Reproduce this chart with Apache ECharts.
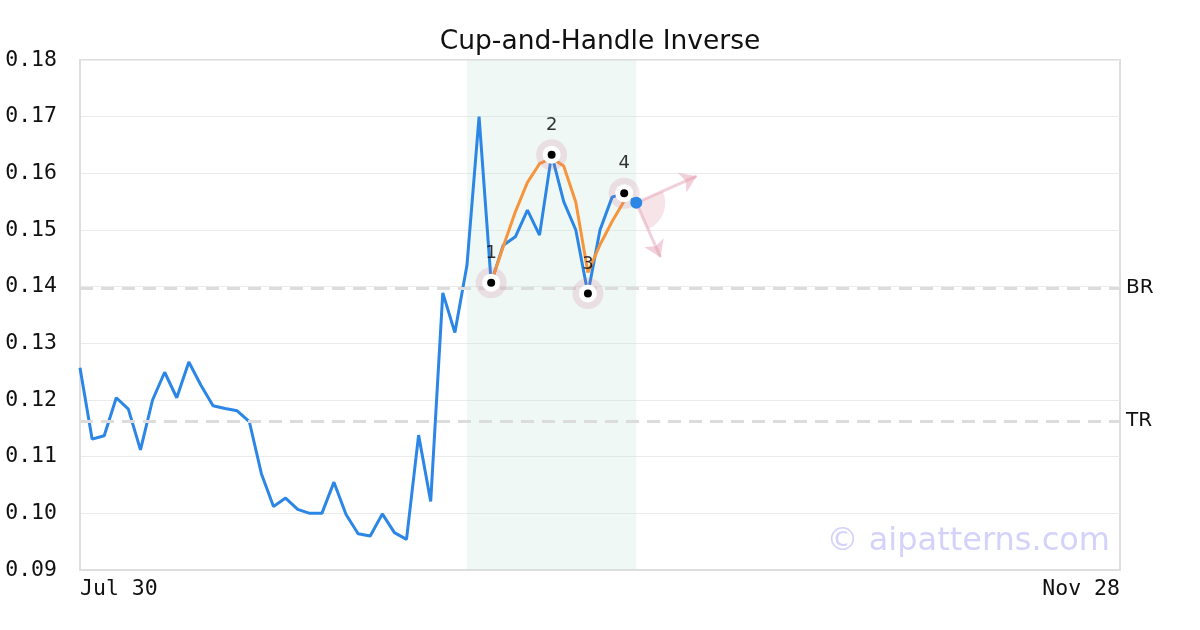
<!DOCTYPE html>
<html>
<head>
<meta charset="utf-8">
<script src="https://cdn.jsdelivr.net/npm/echarts@6/dist/echarts.min.js"></script>
<style>
  html, body { margin: 0; padding: 0; background: #fff; }
  #chart { width: 1200px; height: 630px; }
</style>
</head>
<body>
<div id="chart"></div>
<script>
// trading days Jul 30 .. Nov 28 (weekdays, Labor Day skipped)
const holidays = ['2024-09-02']
const categories = []
let d = new Date(Date.UTC(2024, 6, 30))
const months = ['Jan', 'Feb', 'Mar', 'Apr', 'May', 'Jun', 'Jul', 'Aug', 'Sep', 'Oct', 'Nov', 'Dec']
while (categories.length < 87) {
  const wd = d.getUTCDay()
  const iso = d.toISOString().slice(0, 10)
  if (wd !== 0 && wd !== 6 && holidays.indexOf(iso) < 0) {
    categories.push(months[d.getUTCMonth()] + ' ' + d.getUTCDate())
  }
  d = new Date(d.getTime() + 86400000)
}

const price = [0.1257, 0.1131, 0.1137, 0.1204, 0.1184, 0.1112, 0.1200, 0.1249, 0.1204, 0.1267,
  0.1226, 0.1190, 0.1185, 0.1181, 0.1162, 0.1070, 0.1012, 0.1027, 0.1007, 0.1000,
  0.1000, 0.1055, 0.0998, 0.0964, 0.0960, 0.0999, 0.0966, 0.0954, 0.1138, 0.1021,
  0.1389, 0.1319, 0.1438, 0.1700, 0.1407, 0.1473, 0.1488, 0.1535, 0.1491, 0.1633,
  0.1550, 0.1500, 0.1388, 0.1500, 0.1558, 0.1565, 0.1548]

// smoothed pattern line, starts at index 34
const patternStart = 34
const smooth = [0.1407, 0.1471, 0.1532, 0.1584, 0.1617, 0.1627, 0.1613, 0.1549, 0.1425, 0.1474, 0.1515, 0.1551]

const pivotIdx = [34, 39, 42, 45]
const pivotNames = ['1', '2', '3', '4']

const bandRange = [32, 46]
const levels = [{ name: 'BR', value: 0.1398 }, { name: 'TR', value: 0.1163 }]

const lastIdx = 46
const arrowEnds = [[50.5, 0.1595], [48.15, 0.1452]]

const yTicks = { min: 0.09, max: 0.18, step: 0.01 }

const pad = (arr, start) => categories.map((c, i) => (i >= start && i - start < arr.length ? arr[i - start] : null))

const pivotData = pivotIdx.map((idx, k) => ({ value: [idx, price[idx]], name: pivotNames[k] }))

const pink = 'rgba(205, 110, 140, 0.22)'
const arrowPink = 'rgba(225, 150, 170, 0.45)'

const chart = echarts.init(document.getElementById('chart'))
chart.setOption({
  animation: false,
  title: {
    text: 'Cup-and-Handle Inverse',
    left: 'center',
    top: 24,
    textStyle: { fontFamily: 'DejaVu Sans', fontSize: 26.5, fontWeight: 'normal', color: '#111' },
  },
  grid: {
    left: 80, right: 80, top: 60, bottom: 60,
    show: true,
    borderColor: '#dedede',
    borderWidth: 2,
  },
  xAxis: {
    type: 'category',
    boundaryGap: false,
    data: categories,
    axisLine: { lineStyle: { color: '#dedede', width: 2 } },
    axisTick: { show: false },
    axisLabel: {
      interval: (i) => i === 0 || i === categories.length - 1,
      alignMinLabel: 'left',
      alignMaxLabel: 'right',
      margin: 8,
      fontFamily: 'DejaVu Sans Mono',
      fontSize: 21.5,
      color: '#111',
    },
    splitLine: { show: false },
  },
  yAxis: {
    type: 'value',
    min: yTicks.min,
    max: yTicks.max,
    interval: yTicks.step,
    axisLine: { show: true, lineStyle: { color: '#dedede', width: 2 } },
    axisTick: { show: false },
    axisLabel: {
      formatter: (v) => v.toFixed(2),
      margin: 23,
      fontFamily: 'DejaVu Sans Mono',
      fontSize: 21.5,
      color: '#111',
    },
    splitLine: { lineStyle: { color: '#ebebeb', width: 1 } },
  },
  graphic: [{
    type: 'text',
    x: 1110,
    y: 542,
    z: 0,
    style: {
      text: '© aipatterns.com',
      textAlign: 'right',
      textVerticalAlign: 'middle',
      fontFamily: 'DejaVu Sans',
      fontSize: 32,
      fill: '#d4d2fb',
    },
  }],
  series: [
    {
      name: 'price',
      type: 'line',
      data: pad(price, 0),
      symbol: 'none',
      lineStyle: { color: '#2b86e6', width: 3 },
      z: 3,
      markArea: {
        silent: true,
        itemStyle: { color: 'rgba(190, 228, 210, 0.25)' },
        data: [[{ xAxis: bandRange[0] }, { xAxis: bandRange[1] }]],
      },
      markLine: {
        silent: true,
        symbol: 'none',
        precision: 4,
        lineStyle: { color: '#dcdcdc', width: 3, type: [13, 8] },
        label: {
          position: 'end',
          distance: 6,
          fontFamily: 'DejaVu Sans',
          fontSize: 20,
          color: '#111',
          formatter: (p) => p.name,
        },
        data: levels.map((l) => ({ name: l.name, yAxis: l.value })),
      },
    },
    {
      name: 'pattern',
      type: 'line',
      data: pad(smooth, patternStart),
      symbol: 'none',
      lineStyle: { color: '#f7953c', width: 3 },
      z: 4,
    },
    {
      name: 'fan',
      type: 'custom',
      data: [[lastIdx, price[lastIdx]]],
      z: 2,
      renderItem: (params, api) => {
        const c = api.coord([api.value(0), api.value(1)])
        const a = arrowEnds.map((p) => api.coord(p))
        const ang = a.map((p) => Math.atan2(p[1] - c[1], p[0] - c[0]))
        return {
          type: 'sector',
          shape: { cx: c[0], cy: c[1], r0: 0, r: 29, startAngle: ang[0], endAngle: ang[1], clockwise: true },
          style: { fill: 'rgba(220, 130, 155, 0.22)' },
        }
      },
    },
    {
      name: 'arrows',
      type: 'line',
      data: [],
      markLine: {
        silent: true,
        symbol: ['none', 'arrow'],
        symbolSize: 16,
        lineStyle: { color: arrowPink, width: 3, type: 'solid' },
        label: { show: false },
        data: arrowEnds.map((p) => [{ coord: [lastIdx, price[lastIdx]] }, { coord: p }]),
      },
    },
    {
      name: 'halo',
      type: 'scatter',
      data: pivotData,
      symbolSize: 31,
      itemStyle: { color: pink },
      z: 5,
      label: {
        show: true,
        position: 'top',
        distance: 5,
        formatter: (p) => p.name,
        fontFamily: 'DejaVu Sans',
        fontSize: 18,
        color: '#000',
      },
    },
    {
      name: 'ring',
      type: 'scatter',
      data: pivotData,
      symbolSize: 18,
      itemStyle: { color: '#fff', opacity: 1 },
      z: 6,
    },
    {
      name: 'pivots',
      type: 'scatter',
      data: pivotData,
      symbolSize: 8,
      itemStyle: { color: '#000', opacity: 1 },
      z: 7,
    },
    {
      name: 'last',
      type: 'scatter',
      data: [[lastIdx, price[lastIdx]]],
      symbolSize: 12,
      itemStyle: { color: '#2b86e6', opacity: 1 },
      z: 7,
    },
  ],
})
</script>
</body>
</html>
